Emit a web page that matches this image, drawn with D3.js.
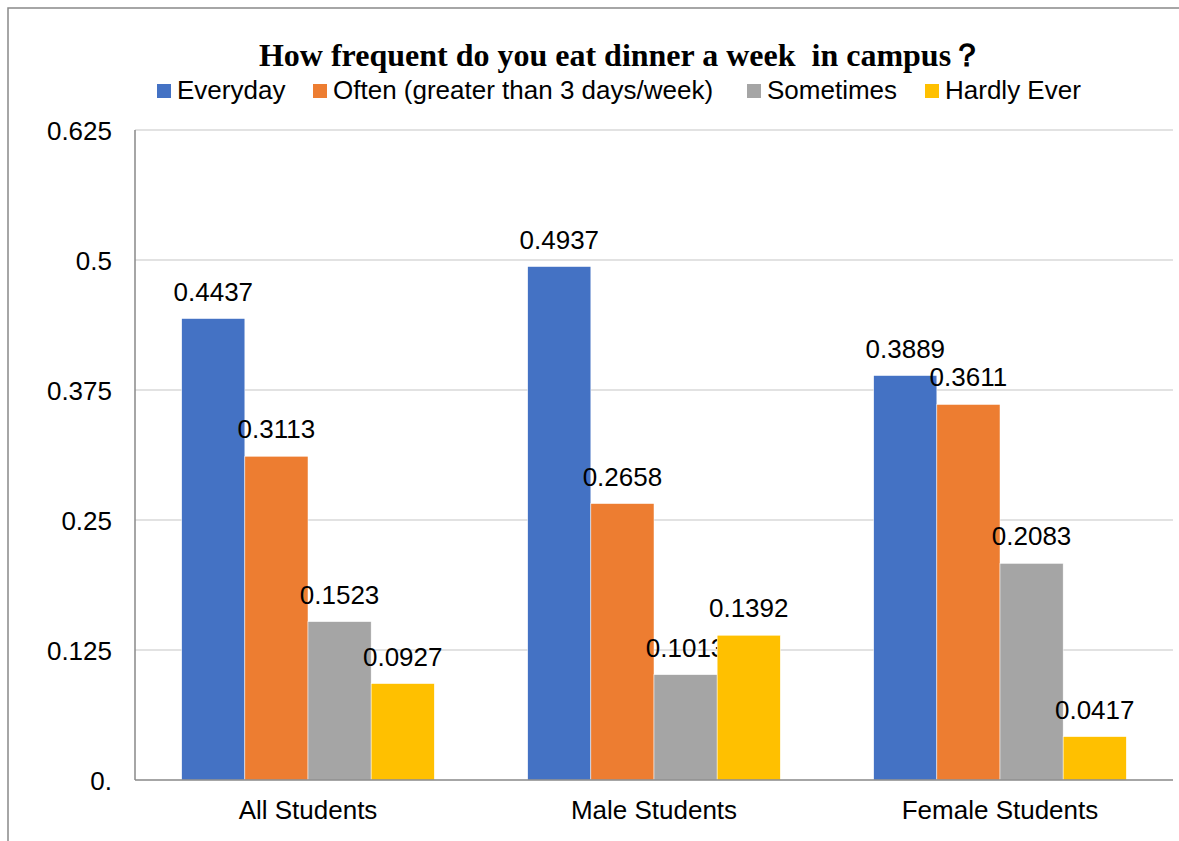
<!DOCTYPE html>
<html>
<head>
<meta charset="utf-8">
<script src="https://cdn.jsdelivr.net/npm/d3@7"></script>
<style>
body { margin: 0; background: #fff; }
text { font-family: "Liberation Sans", Arial, sans-serif; fill: #000; }
</style>
</head>
<body>
<div id="chart"></div>
<script>
let CHART_WIDTH = 1179;
let CHART_HEIGHT = 841;

var categories = ["All Students", "Male Students", "Female Students"];
var seriesNames = ["Everyday", "Often (greater than 3 days/week)", "Sometimes", "Hardly Ever"];
var everyday = [0.4437, 0.4937, 0.3889];
var often = [0.3113, 0.2658, 0.3611];
var sometimes = [0.1523, 0.1013, 0.2083];
var hardlyEver = [0.0927, 0.1392, 0.0417];
var yTicks = [0, 0.125, 0.25, 0.375, 0.5, 0.625];
var yTickLabels = ["0.", "0.125", "0.25", "0.375", "0.5", "0.625"];
var colors = ["#4472C4", "#ED7D31", "#A5A5A5", "#FFC000"];

var seriesValues = [everyday, often, sometimes, hardlyEver];

var svg = d3.select("#chart").append("svg")
	.attr("width", CHART_WIDTH)
	.attr("height", CHART_HEIGHT);

// outer chart border (runs off the right and bottom edges)
svg.append("rect")
	.attr("x", 8).attr("y", 8)
	.attr("width", 1300).attr("height", 1000)
	.attr("fill", "none")
	.attr("stroke", "#898989")
	.attr("stroke-width", 1.5);

var plotLeft = 135, plotRight = 1173, plotTop = 130, plotBottom = 780;

var x0 = d3.scaleBand().domain(categories).range([plotLeft, plotRight])
	.paddingInner(0.27).paddingOuter(0.135);
var x1 = d3.scaleBand().domain(seriesNames).range([0, x0.bandwidth()]);
var y = d3.scaleLinear().domain([0, 0.625]).range([plotBottom, plotTop]);

// gridlines
svg.append("g").selectAll("line")
	.data(yTicks.slice(1))
	.enter().append("line")
	.attr("x1", plotLeft).attr("x2", plotRight)
	.attr("y1", d => y(d)).attr("y2", d => y(d))
	.attr("stroke", "#d9d9d9")
	.attr("stroke-width", 1.5);

// y axis labels
svg.append("g").selectAll("text")
	.data(yTicks)
	.enter().append("text")
	.attr("x", 112)
	.attr("y", d => y(d) + 9.5)
	.attr("text-anchor", "end")
	.style("font-size", "26px")
	.text((d, i) => yTickLabels[i]);

// bars
var groups = svg.append("g").selectAll("g")
	.data(categories)
	.enter().append("g")
	.attr("transform", d => "translate(" + x0(d) + ",0)");

groups.each(function (cat, ci) {
	var g = d3.select(this);
	seriesNames.forEach(function (s, si) {
		var v = seriesValues[si][ci];
		g.append("rect")
			.attr("x", x1(s))
			.attr("y", y(v))
			.attr("width", x1.bandwidth())
			.attr("height", plotBottom - y(v))
			.attr("fill", colors[si])
			.attr("stroke", "#fff")
			.attr("stroke-width", 0.5);
		g.append("text")
			.attr("x", x1(s) + x1.bandwidth() / 2)
			.attr("y", y(v) - 18)
			.attr("text-anchor", "middle")
			.style("font-size", "26px")
			.text(v);
	});
});

// axis lines
svg.append("line")
	.attr("x1", plotLeft).attr("x2", plotLeft)
	.attr("y1", plotTop).attr("y2", plotBottom)
	.attr("stroke", "#898989").attr("stroke-width", 1.5);
svg.append("line")
	.attr("x1", plotLeft).attr("x2", plotRight)
	.attr("y1", plotBottom).attr("y2", plotBottom)
	.attr("stroke", "#898989").attr("stroke-width", 1.5);

// category labels
svg.append("g").selectAll("text")
	.data(categories)
	.enter().append("text")
	.attr("x", d => x0(d) + x0.bandwidth() / 2)
	.attr("y", 819)
	.attr("text-anchor", "middle")
	.style("font-size", "26px")
	.text(d => d);

// title
svg.append("text")
	.attr("x", 621)
	.attr("y", 66)
	.attr("text-anchor", "middle")
	.style("font-family", "'Liberation Serif', 'Times New Roman', serif")
	.style("font-weight", "bold")
	.style("font-size", "32px")
	.style("white-space", "pre")
	.text("How frequent do you eat dinner a week  in campus？");

// legend
var legendX = [157, 313, 747, 925];
var legend = svg.append("g").selectAll("g")
	.data(seriesNames)
	.enter().append("g")
	.attr("transform", (d, i) => "translate(" + legendX[i] + ",0)");
legend.append("rect")
	.attr("x", 0).attr("y", 84)
	.attr("width", 14).attr("height", 14)
	.attr("fill", (d, i) => colors[i]);
legend.append("text")
	.attr("x", 20).attr("y", 99)
	.style("font-size", "26px")
	.text(d => d);
</script>
</body>
</html>
